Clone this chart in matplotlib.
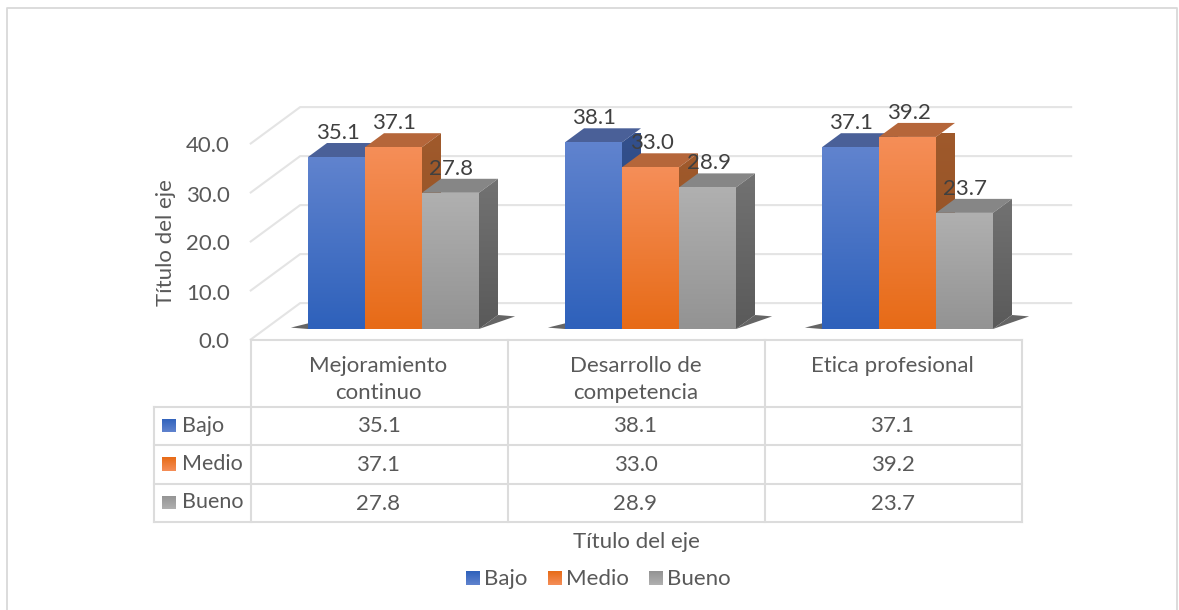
import matplotlib
matplotlib.use('Agg')
import matplotlib.pyplot as plt
from matplotlib.patches import Polygon
import numpy as np

categories = ['Mejoramiento\ncontinuo', 'Desarrollo de\ncompetencia', 'Etica profesional']
series_names = ['Bajo', 'Medio', 'Bueno']
bajo = [35.1, 38.1, 37.1]
medio = [37.1, 33.0, 39.2]
bueno = [27.8, 28.9, 23.7]
y_ticks = [0, 10, 20, 30, 40]

W, H = 1179, 610
TXT = '#595959'
FS = 16
plt.rcParams['font.family'] = ['Lato', 'DejaVu Sans']

# front face, top face, side face colours for each series
front_cols = [('#6083CE', '#2E61BB'), ('#F58E58', '#E76B17'), ('#B0B0B0', '#939393')]
top_cols = ['#4A6098', '#B5663A', '#868686']
side_cols = [('#34508C', '#22457F'), ('#A05A2C', '#8F4F22'), ('#727272', '#5A5A5A')]

fig = plt.figure(figsize=(W / 100, H / 100), dpi=100)

# the axes is the plane of the bar fronts, the 3d look is a skew on top of it
ax = fig.add_axes([265 / W, 1 - 329 / H, 771 / W, 196 / H])
ax.set_axis_off()

BAR_W = 57 / 257
DX = 19 / 257    # one bar depth in x units
DY = 14 / 4.9    # one bar depth in value units
D_FRONT, D_BACK = -0.75, 1.85


def pt(x, v, d=0.0):
    return (x + d * DX, v + d * DY)


def grad(a, verts, cols, z):
    xs = [p[0] for p in verts]
    ys = [p[1] for p in verts]
    c0 = np.array(matplotlib.colors.to_rgb(cols[0]))
    c1 = np.array(matplotlib.colors.to_rgb(cols[1]))
    t = np.linspace(0, 1, 64)[:, None]
    img = (c0 + (c1 - c0) * t)[:, None, :]
    im = a.imshow(img, extent=(min(xs), max(xs), min(ys), max(ys)), aspect='auto',
                  origin='upper', zorder=z, interpolation='bilinear')
    im.set_clip_path(Polygon(verts, closed=True, transform=a.transData))


# walls and floor
for v in y_ticks:
    ax.plot(*zip(pt(0, v, D_FRONT), pt(0, v, D_BACK), pt(3, v, D_BACK)),
            color='#E4E4E4', lw=1.5, zorder=1, clip_on=False)
    x, y = pt(0, v, D_FRONT)
    ax.annotate(f'{v:.1f}', (x, y), xytext=(-21, -3), textcoords='offset pixels', ha='right',
                va='center', fontsize=FS, color=TXT, annotation_clip=False)

# bars, back to front series by series
z = 2
for i in range(3):
    xc = i + 0.5
    left = xc - 1.5 * BAR_W
    ax.add_patch(Polygon([pt(left, 0, 0), pt(left - 1.0 * DX, 0, 0.1), pt(left, 0, 0.6)],
                         closed=True, fc='#4A4A4A', ec='none', alpha=0.85, zorder=z, clip_on=False))
    right = xc + 1.5 * BAR_W
    ax.add_patch(Polygon([pt(right, 0, 0), pt(right, 0, 1.0), pt(right + 1.0 * DX, 0, 0.9)],
                         closed=True, fc='#4A4A4A', ec='none', alpha=0.85, zorder=z, clip_on=False))
    z += 1
    for j, vals in enumerate([bajo, medio, bueno]):
        v = vals[i]
        x0 = left + j * BAR_W
        x1 = x0 + BAR_W
        ax.add_patch(Polygon([pt(x0, v), pt(x1, v), pt(x1, v, 1), pt(x0, v, 1)], closed=True,
                             fc=top_cols[j], ec='none', zorder=z, clip_on=False))
        side = [pt(x1, 0), pt(x1, v), pt(x1, v, 1), pt(x1, 0, 1)]
        grad(ax, side, side_cols[j], z)
        front = [pt(x0, 0), pt(x1, 0), pt(x1, v), pt(x0, v)]
        grad(ax, front, front_cols[j], z + 1)
        z += 2

for i in range(3):
    for j, vals in enumerate([bajo, medio, bueno]):
        xb = i + 0.5 + (j - 1) * BAR_W
        ax.annotate(f'{vals[i]:.1f}', (xb, vals[i]), xytext=(1, 24), textcoords='offset pixels',
                    ha='center', va='center', fontsize=FS, color='#404040', zorder=50,
                    annotation_clip=False)

ax.set_xlim(0, 3)
ax.set_ylim(0, 40)

# page layer for the chart frame, data table, axis titles and legend, in pixels
pg = fig.add_axes([0, 0, 1, 1])
pg.set_axis_off()
pg.patch.set_alpha(0)
LINE = '#DCDCDC'
col_x = [251, 508, 765, 1022]
row_y = [340, 406.5, 445, 483.5, 522]
pg.plot([7, 7, 1177, 1177], [610, 8, 8, 610], color='#D9D9D9', lw=1.3)
for x in col_x:
    pg.plot([x, x], [row_y[0], row_y[-1]], color=LINE, lw=1.5)
pg.plot([154, 154], [row_y[1], row_y[-1]], color=LINE, lw=1.5)
pg.plot([251, 1022], [340, 340], color=LINE, lw=1.5)
for y in row_y[1:]:
    pg.plot([154, 1022], [y, y], color=LINE, lw=1.5)

for i, cat in enumerate(categories):
    xc = (col_x[i] + col_x[i + 1]) / 2
    pg.text(xc - 1, 365.5 if '\n' not in cat else 379.5, cat, ha='center', va='center', fontsize=FS,
            color=TXT, linespacing=1.45)
    for r, vals in enumerate([bajo, medio, bueno]):
        pg.text(xc - 1, row_y[r + 1] + 20, f'{vals[i]:.1f}', ha='center', va='center', fontsize=FS,
                color=TXT)

for r, name in enumerate(series_names):
    yc = row_y[r + 1] + 19
    grad(pg, [(162, yc + 7), (176, yc + 7), (176, yc - 7), (162, yc - 7)], front_cols[r], 5)
    pg.text(182, yc, name, ha='left', va='center', fontsize=15.5, color=TXT)

legend_x = [466, 548, 649]
for r, name in enumerate(series_names):
    x = legend_x[r]
    grad(pg, [(x, 585), (x + 14, 585), (x + 14, 571), (x, 571)], front_cols[r], 5)
    pg.text(x + 18, 579, name, ha='left', va='center', fontsize=FS, color=TXT)

pg.text(636, 542, 'Título del eje', ha='center', va='center', fontsize=FS, color=TXT)
pg.text(166, 243, 'Título del eje', ha='center', va='center', rotation=90, fontsize=FS, color=TXT)

pg.set_xlim(0, W)
pg.set_ylim(H, 0)

fig.savefig('out.png', dpi=100)
